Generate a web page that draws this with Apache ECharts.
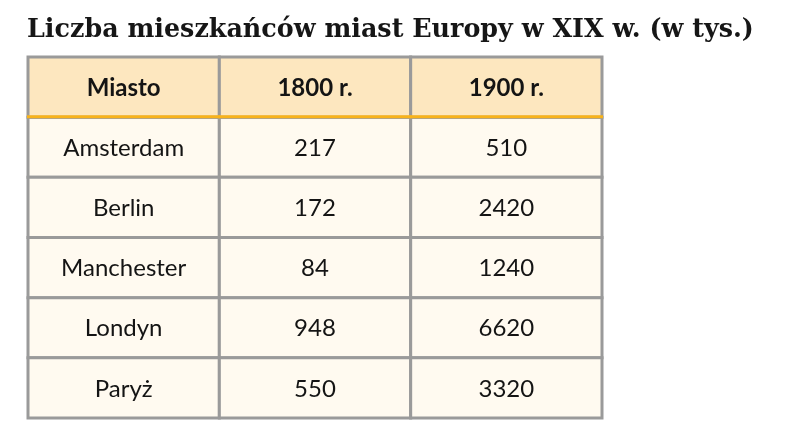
<!DOCTYPE html>
<html><head><meta charset="utf-8">
<script src="https://cdn.jsdelivr.net/npm/echarts@6/dist/echarts.min.js"></script>
<style>html,body{margin:0;padding:0;background:#fff}#c{width:785px;height:446px}</style>
</head><body><div id="c"></div>
<script>
const titleText = 'Liczba mieszkańców miast Europy w XIX w. (w tys.)';
const columns = ['Miasto', '1800 r.', '1900 r.'];
const cities = ['Amsterdam', 'Berlin', 'Manchester', 'Londyn', 'Paryż'];
const pop1800 = [217, 172, 84, 948, 550];
const pop1900 = [510, 2420, 1240, 6620, 3320];

const rows = ['header'].concat(cities);
const data = [];
cities.forEach((c, i) => {
  data.push([0, i + 1, c]);
  data.push([1, i + 1, String(pop1800[i])]);
  data.push([2, i + 1, String(pop1900[i])]);
});
columns.forEach((h, j) => data.push([j, 0, h]));

const chart = echarts.init(document.getElementById('c'));
chart.setOption({
  animation: false,
  title: {
    text: titleText, left: 22, top: 13,
    textStyle: { fontFamily: 'DejaVu Serif', fontWeight: 'bold', fontSize: 25.4, color: '#161616' }
  },
  grid: { left: 28, right: 183, top: 57, bottom: 28 },
  xAxis: { type: 'category', data: columns, show: false },
  yAxis: { type: 'category', data: rows, inverse: true, show: false },
  series: [{
    type: 'custom',
    data: data,
    encode: { x: 0, y: 1 },
    renderItem: function (params, api) {
      const x = api.value(0), y = api.value(1);
      const p = api.coord([x, y]);
      const s = api.size([1, 1]);
      const isHeader = y === 0;
      const rx = p[0] - s[0] / 2, ry = p[1] - s[1] / 2;
      const children = [{
        type: 'rect',
        shape: { x: rx, y: ry, width: s[0], height: s[1] },
        style: { fill: isHeader ? '#fde7bf' : '#fffaf0', stroke: '#9a9a9a', lineWidth: 3 },
        z2: 1
      }, {
        type: 'text',
        style: {
          text: api.value(2), x: p[0], y: p[1] + 1, align: 'center', verticalAlign: 'middle',
          fontFamily: 'Lato', fontSize: 24, fontWeight: isHeader ? 'bold' : 'normal', fill: '#141414'
        },
        z2: 5
      }];
      if (isHeader) {
        children.push({
          type: 'rect',
          shape: { x: rx - 1, y: ry + s[1] - 2, width: s[0] + 2, height: 3 },
          style: { fill: '#f8b31b' },
          z2: 10
        });
      }
      return { type: 'group', children: children };
    }
  }]
});
</script></body></html>
